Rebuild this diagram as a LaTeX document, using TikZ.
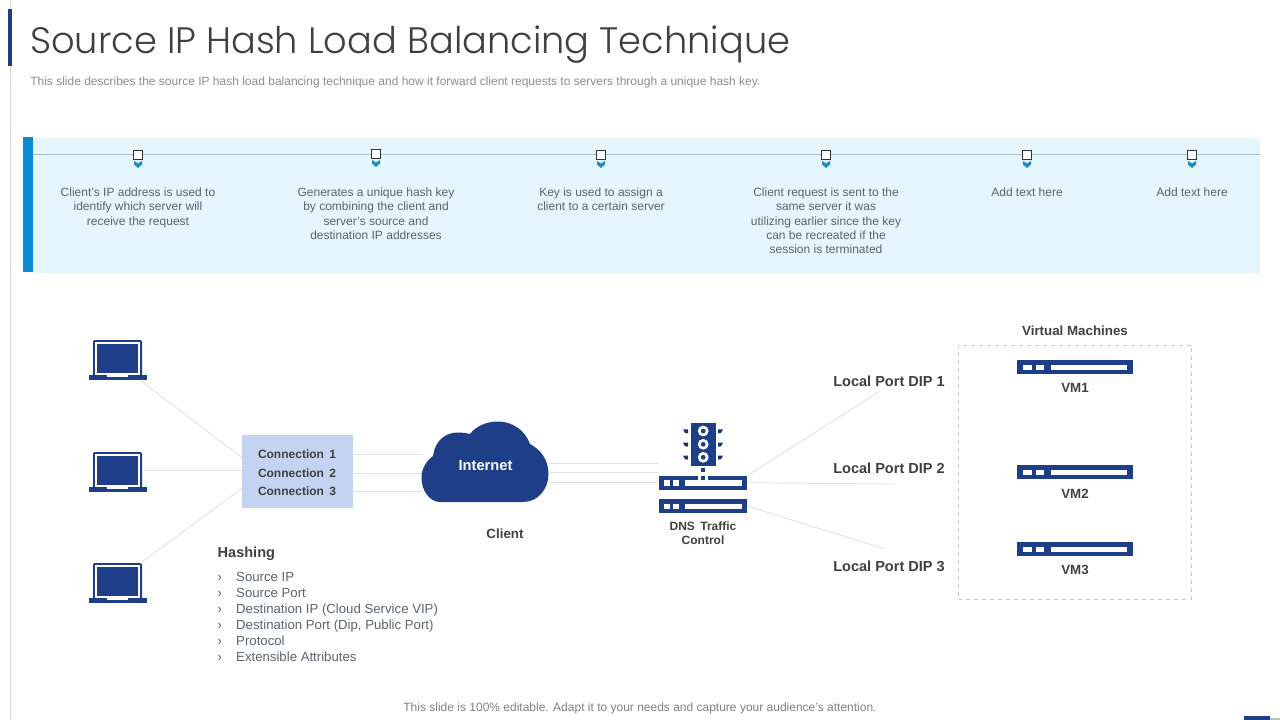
\documentclass[tikz,border=0pt]{standalone}
\usepackage{fontspec}
\setmainfont{Liberation Sans}
\newfontfamily\titlefont{Poppins Light}
\usepackage{xcolor}
\definecolor{navy}{HTML}{1F3E88}
\definecolor{panelblue}{HTML}{E6F6FD}
\definecolor{barblue}{HTML}{0B8BD0}
\definecolor{chevblue}{HTML}{1C8CC4}
\definecolor{connblue}{HTML}{C5D3F2}
\definecolor{wiregrey}{HTML}{E2E2E2}
\definecolor{railgrey}{HTML}{A9BDC9}
\definecolor{bodygrey}{HTML}{5C636B}
\definecolor{headgrey}{HTML}{404040}
\tikzset{
    steptext/.style={text=bodygrey, align=center, font=\fontsize{9}{10.75}\selectfont, anchor=north},
    boldlabel/.style={text=headgrey, font=\fontsize{10.9}{13}\selectfont\bfseries},
    smalllabel/.style={text=headgrey, align=center, font=\fontsize{9}{10.6}\selectfont\bfseries},
    midlabel/.style={text=headgrey, align=center, font=\fontsize{10}{12}\selectfont\bfseries},
    listitem/.style={text=bodygrey, anchor=base west, font=\fontsize{9.9}{11}\selectfont},
    wire/.style={draw=wiregrey, line width=0.7pt},
    marker/.style={draw=black!80, fill=white, line width=0.6pt, inner sep=0pt, minimum size=6.2pt},
}
% laptop icon: name, top left of the lid
\newcommand{\laptopicon}[3]{
    \begin{scope}[shift={(#2,#3)}]
        \fill[navy, rounded corners=1pt] (0,0) rectangle (49,36);
        \fill[white] (1.7,1.7) rectangle (47.3,36);
        \node[fill=navy, inner sep=0pt, minimum width=30.75pt, minimum height=21.75pt, anchor=north west] (#1) at (4,4) {};
        \fill[navy] (-4.5,35) rectangle (53.5,39.5);
        \fill[white] (14,35) rectangle (35,37.2);
    \end{scope}
}
% rack bar with its three slots: name, left, top, width
\newcommand{\rackbar}[4]{
    \node[fill=navy, inner sep=0pt, minimum width=#4*0.75pt, minimum height=10.5pt, anchor=north west] (#1) at (#2,#3) {};
    \begin{scope}[shift={(#2,#3)}]
        \fill[white] (#4*0.052,4.5) rectangle (#4*0.127,10);
        \fill[white] (#4*0.161,4.5) rectangle (#4*0.23,10);
        \fill[white] (#4*0.293,4.5) rectangle (#4*0.948,10);
    \end{scope}
}
\begin{document}
\begin{tikzpicture}[x=0.75pt, y=-0.75pt]
    \useasboundingbox (0,0) rectangle (1280,720);
    % Title
    \fill[black!15] (10,0) rectangle (11,720);
    \fill[navy] (8,9) rectangle (12,66);
    \node[text=headgrey, anchor=west, inner sep=0pt, font=\titlefont\fontsize{27.6}{34}\selectfont] (title) at (30,44.5) {Source IP Hash Load Balancing Technique};
    \node[text=black!45, anchor=west, inner sep=0pt, font=\fontsize{9}{11}\selectfont] (subtitle) at (30,82.5) {This slide describes the source IP hash load balancing technique and how it forward client requests to servers through a unique hash key.};

    % Steps panel
    \fill[panelblue] (33,138) rectangle (1260,273);
    \fill[barblue] (23,137) rectangle (33,272);
    \draw[railgrey, line width=0.6pt] (33,154.5) -- (1260,154.5);
    \foreach \name/\xpos/\ypos in {a/138/155, b/376/154, c/601/155, d/826/155, e/1027/155, f/1192/155} {
        \node[marker] (mark\name) at (\xpos,\ypos) {};
        \fill[chevblue] (\xpos-4,\ypos+6) -- (\xpos,\ypos+8.5) -- (\xpos+4,\ypos+6) -- (\xpos+4,\ypos+9.5) -- (\xpos,\ypos+13) -- (\xpos-4,\ypos+9.5) -- cycle;
    }
    \node[steptext] (texta) at (138,183) {Client's IP address is used to\\identify which server will\\receive the request};
    \node[steptext] (textb) at (376,183) {Generates a unique hash key\\by combining the client and\\server's source and\\destination IP addresses};
    \node[steptext] (textc) at (601,183) {Key is used to assign a\\client to a certain server};
    \node[steptext] (textd) at (826,183) {Client request is sent to the\\same server it was\\utilizing earlier since the key\\can be recreated if the\\session is terminated};
    \node[steptext] (texte) at (1027,183) {Add text here};
    \node[steptext] (textf) at (1192,183) {Add text here};

    % Clients and connections
    \laptopicon{lap1}{93}{340}
    \laptopicon{lap2}{93}{452}
    \laptopicon{lap3}{93}{563}
    \node[fill=connblue, inner sep=0pt, minimum width=83.25pt, minimum height=54.75pt, anchor=north west] (conn) at (242,435) {};
    \node[smalllabel] (conn1) at (297,454) {Connection\, 1};
    \node[smalllabel] (conn2) at (297,473) {Connection\, 2};
    \node[smalllabel] (conn3) at (297,491) {Connection\, 3};
    \draw[wire] ([shift={(2,7)}]lap1.south east) -- ([shift={(0,-14)}]conn.west);
    \draw[wire] ([shift={(4,0)}]lap2.east) -- (conn.west |- lap2.east);
    \draw[wire] ([shift={(2,-4)}]lap3.north east) -- ([shift={(0,16.5)}]conn.west);

    % Cloud
    \node[inner sep=0pt, minimum width=95.5pt, minimum height=60.5pt, anchor=north west] (cloud) at (421.5,421.5) {};
    \draw[wire] (conn.east |- conn1) -- (cloud.west |- conn1);
    \draw[wire] (conn.east |- conn2) -- (cloud.west |- conn2);
    \draw[wire] (conn.east |- conn3) -- (cloud.west |- conn3);
    \fill[navy] (440,502) -- (523,502) .. controls (538,502) and (548.5,489) .. (548.5,474) .. controls (548.5,460) and (541,450) .. (530,444) .. controls (525,430) and (512,421.5) .. (498,421.5) .. controls (487,421.5) and (476,426) .. (470,434) .. controls (466,433) and (462,432.5) .. (458,432.5) .. controls (445,432.5) and (435,441) .. (433,456) .. controls (426,461) and (421.5,469) .. (421.5,478) .. controls (421.5,491) and (430,502) .. (440,502) -- cycle;
    \node[text=white, font=\fontsize{11}{13}\selectfont\bfseries] (inet) at (485.5,466) {Internet};
    \node[midlabel] (client) at (505,534) {Client};

    % DNS
    \rackbar{dns1}{659}{475.5}{88}
    \rackbar{dns2}{659}{499}{88}
    \draw[wire] (cloud.east |- 0,463) -- (dns1.west |- 0,463);
    \draw[wire] (cloud.east |- 0,472) -- (dns1.west |- 0,472);
    \draw[wire] (cloud.east |- 0,482) -- (dns1.west |- 0,482);
    \fill[white] (698,475.5) rectangle (708,480);
    \fill[navy] (701,468.3) rectangle (705,471.7);
    \fill[navy] (701,475.5) rectangle (705,480);
    \node[fill=navy, inner sep=0pt, minimum width=18.75pt, minimum height=32pt, anchor=north west] (lamp) at (690.7,422.7) {};
    \foreach \ypos in {431,444.3,457.3} {
        \fill[white] (703.2,\ypos) circle (5.4);
        \fill[navy] (703.2,\ypos) circle (2.4);
        \fill[navy!85!black] (683,\ypos-1.7) -- (688,\ypos-1.7) -- (688,\ypos+2.3) -- (685,\ypos+2) -- cycle;
        \fill[navy!85!black] (723,\ypos-1.7) -- (718,\ypos-1.7) -- (718,\ypos+2.3) -- (721,\ypos+2) -- cycle;
    }
    \node[smalllabel] (dnstext) at (703,533) {DNS\, Traffic\\Control};

    % Local ports
    \node[boldlabel] (dip1) at (889,381) {Local Port DIP 1};
    \node[boldlabel] (dip2) at (889,468) {Local Port DIP 2};
    \node[boldlabel] (dip3) at (889,566) {Local Port DIP 3};
    \draw[wire] (dns1.north east) -- ([shift={(-9,0)}]dip1.south);
    \draw[wire] (dns1.east) -- ([shift={(6,6)}]dip2.south);
    \draw[wire] (dns2.east) -- ([shift={(-4,-7)}]dip3.north);

    % Virtual machines
    \node[draw=black!20, dashed, inner sep=0pt, minimum width=175pt, minimum height=190.75pt, anchor=north west] (vmbox) at (958,344.5) {};
    \node[midlabel] (vmhead) at (1075,331) {Virtual Machines};
    \rackbar{vm1}{1017}{360}{116}
    \rackbar{vm2}{1017}{465}{116}
    \rackbar{vm3}{1017}{542}{116}
    \node[midlabel] (vmtext1) at (1075,388) {VM1};
    \node[midlabel] (vmtext2) at (1075,494) {VM2};
    \node[midlabel] (vmtext3) at (1075,570) {VM3};

    % Hashing list
    \node[boldlabel, anchor=west] (hash) at (213,553.5) {Hashing};
    \foreach \name/\ypos in {a/581, b/597, c/613, d/629, e/645, f/661} {
        \node[listitem] (bul\name) at (213,\ypos) {›};
    }
    \node[listitem] (itema) at (231.5,581) {Source IP};
    \node[listitem] (itemb) at (231.5,597) {Source Port};
    \node[listitem] (itemc) at (231.5,613) {Destination IP (Cloud Service VIP)};
    \node[listitem] (itemd) at (231.5,629) {Destination Port (Dip, Public Port)};
    \node[listitem] (iteme) at (231.5,645) {Protocol};
    \node[listitem] (itemf) at (231.5,661) {Extensible Attributes};

    % Footer
    \node[text=black!50, font=\fontsize{9}{11}\selectfont] (foot) at (640,708.7) {This slide is 100\% editable. Adapt it to your needs and capture your audience's attention.};
    \fill[black!25] (1270,718) rectangle (1280,720);
    \fill[navy] (1244,716) rectangle (1270,720);
\end{tikzpicture}
\end{document}
